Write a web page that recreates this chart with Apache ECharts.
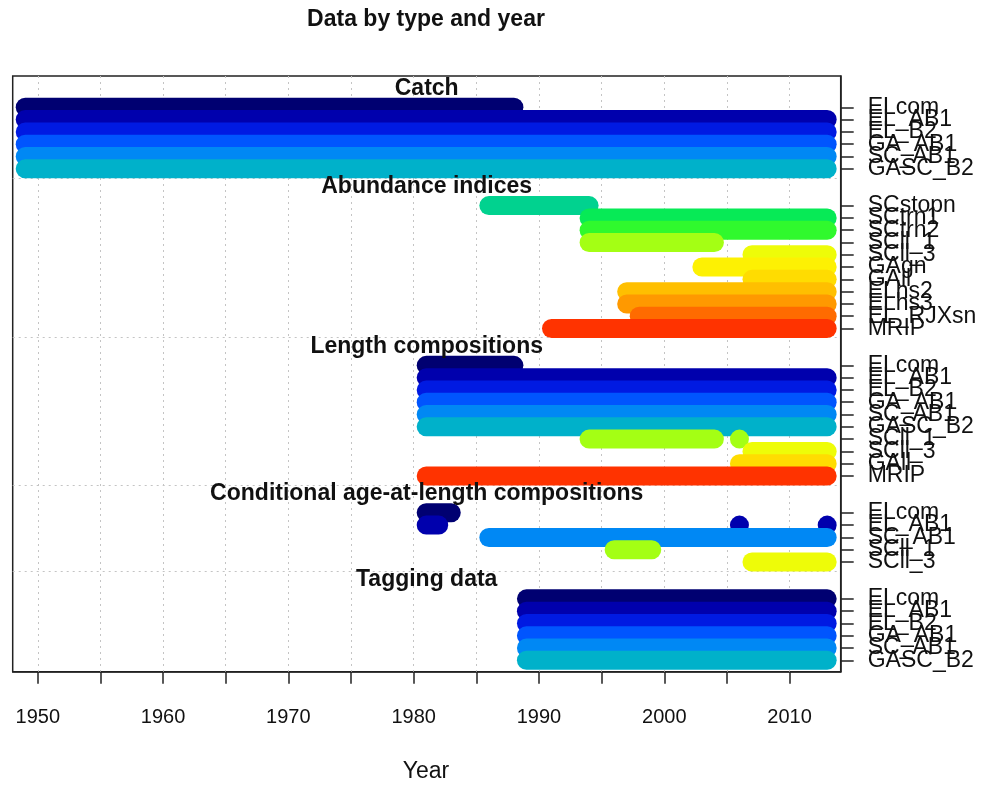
<!DOCTYPE html>
<html><head><meta charset="utf-8">
<script src="https://cdn.jsdelivr.net/npm/echarts@6/dist/echarts.min.js"></script>
<style>html,body{margin:0;padding:0;background:#fff}#c{width:986px;height:786px}</style>
</head><body><div id="c"></div>
<script>
// ---- data ----
const fleetNames  = ['ELcom','EL_AB1','EL_B2','GA_AB1','SC_AB1','GASC_B2','SCstopn','SCtrn1','SCtrn2','SCll_1','SCll_3','GAgn','GAll','ELhs2','ELhs3','EL_RJXsn','MRIP'];
const fleetColors = ['#000071','#0000AD','#001AE2','#0055FE','#0088F4','#00B1CA','#01D28F','#07EA56','#30F92D','#A4FF14','#EEFC08','#FDF103','#FFDC01','#FFBF00','#FF9900','#FF6B00','#FF3300'];

const groupTitles = ['Catch','Abundance indices','Length compositions','Conditional age-at-length compositions','Tagging data'];

const catchFleets = ['ELcom','EL_AB1','EL_B2','GA_AB1','SC_AB1','GASC_B2'];
const catchSpans  = [[[1949,1988]],[[1949,2013]],[[1949,2013]],[[1949,2013]],[[1949,2013]],[[1949,2013]]];

const indexFleets = ['SCstopn','SCtrn1','SCtrn2','SCll_1','SCll_3','GAgn','GAll','ELhs2','ELhs3','EL_RJXsn','MRIP'];
const indexSpans  = [[[1986,1994]],[[1994,2013]],[[1994,2013]],[[1994,2004]],[[2007,2013]],[[2003,2013]],[[2007,2013]],[[1997,2013]],[[1997,2013]],[[1998,2013]],[[1991,2013]]];

const lengthFleets = ['ELcom','EL_AB1','EL_B2','GA_AB1','SC_AB1','GASC_B2','SCll_1','SCll_3','GAll','MRIP'];
const lengthSpans  = [[[1981,1988]],[[1981,2013]],[[1981,2013]],[[1981,2013]],[[1981,2013]],[[1981,2013]],[[1994,2004],[2006,2006]],[[2007,2013]],[[2006,2013]],[[1981,2013]]];

const ageFleets = ['ELcom','EL_AB1','SC_AB1','SCll_1','SCll_3'];
const ageSpans  = [[[1981,1983]],[[1981,1982],[2006,2006],[2013,2013]],[[1986,2013]],[[1996,1999]],[[2007,2013]]];

const tagFleets = ['ELcom','EL_AB1','EL_B2','GA_AB1','SC_AB1','GASC_B2'];
const tagSpans  = [[[1989,2013]],[[1989,2013]],[[1989,2013]],[[1989,2013]],[[1989,2013]],[[1989,2013]]];

const xTicks  = [1950,1955,1960,1965,1970,1975,1980,1985,1990,1995,2000,2005,2010];
const xLabels = [1950,1960,1970,1980,1990,2000,2010];

// ---- layout ----
const groups = [
  [catchFleets, catchSpans],
  [indexFleets, indexSpans],
  [lengthFleets, lengthSpans],
  [ageFleets, ageSpans],
  [tagFleets, tagSpans]
];
const XMIN = 1948.0, XMAX = 2014.08;
const YMIN = -2.547, YMAX = 45.928;
const BAR = 19;
const XMID = (XMIN + XMAX) / 2;
const FONT = '"Liberation Sans", Arial, sans-serif';

const series = [];
const rowPos = [];
const rowLabels = [];
const sepLines = [];
const titleData = [];
let y = 0, k = 0;
groups.forEach(([fleets, spans], gi) => {
  if (gi > 0) { y += 2; sepLines.push(y - 2.25); }
  titleData.push({value: [XMID, y - 1.55], name: groupTitles[gi]});
  fleets.forEach((f, i) => {
    const col = fleetColors[fleetNames.indexOf(f)];
    rowPos.push(y);
    rowLabels.push({value: [XMAX, y], name: f});
    spans[i].forEach(([s, e]) => {
      if (s === e) {
        series.push({type: 'scatter', data: [[s, y]], symbol: 'circle', symbolSize: BAR,
          itemStyle: {color: col, opacity: 1}, z: 10 + k, silent: true, animation: false});
      } else {
        series.push({type: 'line', data: [[s, y], [e, y]], symbol: 'none', showSymbol: false,
          lineStyle: {width: BAR, color: col, cap: 'round', opacity: 1}, itemStyle: {color: col},
          z: 10 + k, silent: true, animation: false, clip: false});
      }
    });
    k++; y += 1;
  });
});

// grid lines & separators
series.unshift({
  type: 'line', data: [], z: 1, silent: true, animation: false,
  markLine: {
    symbol: 'none', silent: true, animation: false, label: {show: false},
    lineStyle: {type: [2, 4], color: '#c4c4c4', width: 1},
    data: xTicks.map(v => ({xAxis: v})).concat(sepLines.map(v => ({yAxis: v})))
  }
});
// group titles
series.push({
  type: 'scatter', data: titleData, symbolSize: 0, z: 200, silent: true, animation: false,
  itemStyle: {opacity: 1},
  label: {show: true, formatter: p => p.name, position: 'inside',
    fontFamily: FONT, fontWeight: 'bold', fontSize: 23, color: '#111'}
});
// fleet labels on right axis
series.push({
  type: 'scatter', data: rowLabels, symbolSize: 0, z: 200, silent: true, animation: false, clip: false,
  itemStyle: {opacity: 1},
  label: {show: true, formatter: p => p.name, position: 'right', distance: 27,
    fontFamily: FONT, fontSize: 23, color: '#111'},
  labelLayout: {hideOverlap: false}
});

const chart = echarts.init(document.getElementById('c'), null, {renderer: 'canvas'});
chart.setOption({
  backgroundColor: '#fff',
  animation: false,
  grid: {left: 12.7, right: 145.3, top: 76, bottom: 114.3, show: true, borderColor: '#222', borderWidth: 1.5, backgroundColor: 'transparent'},
  xAxis: {
    type: 'value', min: XMIN, max: XMAX, position: 'bottom',
    axisLine: {show: true, onZero: false, lineStyle: {color: '#222', width: 1.5}},
    axisTick: {show: true, customValues: xTicks, length: 12, lineStyle: {color: '#222', width: 1.5}},
    axisLabel: {show: true, customValues: xLabels, margin: 36, fontSize: 20, color: '#111',
      fontFamily: FONT, formatter: v => String(v)},
    splitLine: {show: false}
  },
  yAxis: {
    type: 'value', min: YMIN, max: YMAX, inverse: true, position: 'right',
    axisLine: {show: true, lineStyle: {color: '#222', width: 1.5}},
    axisTick: {show: true, customValues: rowPos, length: 13, lineStyle: {color: '#222', width: 1.5}},
    axisLabel: {show: false},
    splitLine: {show: false}
  },
  graphic: [
    {type: 'text', x: 426, y: 20, style: {text: 'Data by type and year', textAlign: 'center', textVerticalAlign: 'middle',
      font: 'bold 23px ' + FONT, fill: '#111'}},
    {type: 'text', x: 426, y: 772, style: {text: 'Year', textAlign: 'center', textVerticalAlign: 'middle',
      font: '23px ' + FONT, fill: '#111'}}
  ],
  series: series
});
</script>
</body></html>
